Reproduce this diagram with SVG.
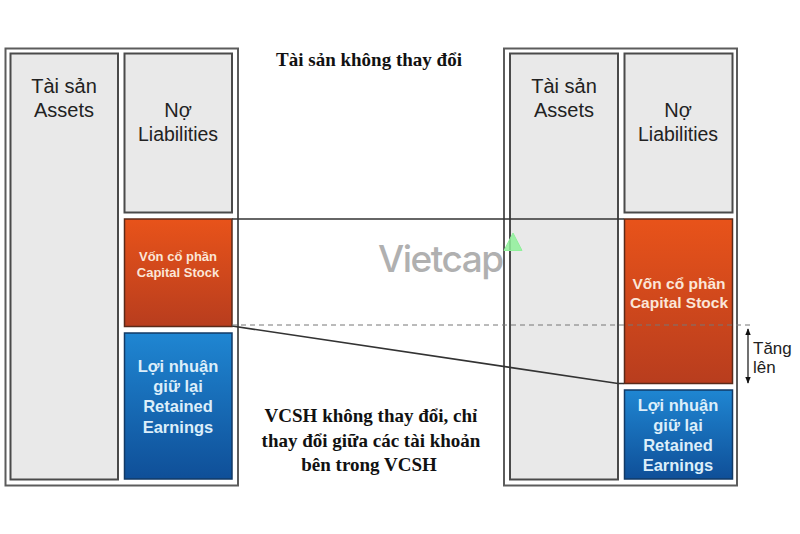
<svg xmlns="http://www.w3.org/2000/svg" width="800" height="534" viewBox="0 0 800 534">
<style>
.outer{fill:#fff;stroke:#5c5c5c;stroke-width:2}
.box{fill:#e9e9e9;stroke:#4a4a4a;stroke-width:2}
.or{fill:url(#orange);stroke:#5a2a1a;stroke-width:1.5}
.bl{fill:url(#blue);stroke:#123a66;stroke-width:1.5}
.big{font-family:"Liberation Sans",Arial,sans-serif;font-size:20px;fill:#222;text-anchor:middle}
.lt{font-family:"Liberation Sans",Arial,sans-serif;fill:#dceefa;text-anchor:middle;font-weight:bold}
.ow{font-family:"Liberation Sans",Arial,sans-serif;fill:#fbe6d8;text-anchor:middle;font-weight:bold}
.ser{font-family:"Liberation Serif","Times New Roman",serif;font-size:19px;font-weight:bold;fill:#111;text-anchor:middle}
.conn{fill:none;stroke:#333;stroke-width:1.6}
</style>
<defs>
<linearGradient id="orange" x1="0" y1="0" x2="0" y2="1"><stop offset="0" stop-color="#e8531a"/><stop offset="1" stop-color="#b83d1e"/></linearGradient>
<linearGradient id="blue" x1="0" y1="0" x2="0" y2="1"><stop offset="0" stop-color="#1f86d2"/><stop offset="1" stop-color="#0f4f98"/></linearGradient>
<marker id="ah" viewBox="0 0 10 10" refX="9" refY="5" markerWidth="6" markerHeight="6" orient="auto-start-reverse"><path d="M0 1L10 5L0 9Z" fill="#111"/></marker>
</defs>
<g id="left-frame"><rect class="outer" x="5.500" y="48.500" width="232.500" height="437"/></g>
<g id="right-frame"><rect class="outer" x="504" y="48.500" width="233" height="437"/></g>
<g id="left-assets"><rect class="box" x="10.500" y="53.500" width="107.500" height="426"/><text class="big" x="64" y="93">Tài sản</text><text class="big" x="64" y="117">Assets</text></g>
<g id="left-liabilities"><rect class="box" x="124.500" y="53.500" width="107.500" height="159"/><text class="big" x="178" y="117">Nợ</text><text class="big" x="178" y="141" textLength="80" lengthAdjust="spacingAndGlyphs">Liabilities</text></g>
<g id="left-capital"><rect class="or" x="124.500" y="219" width="107.500" height="107.500"/><text class="ow" font-size="13" x="178" y="261">Vốn cổ phần</text><text class="ow" font-size="13" x="178" y="277">Capital Stock</text></g>
<g id="left-retained"><rect class="bl" x="124.500" y="333" width="107.500" height="146"/><text class="lt" font-size="16.500" x="178" y="372">Lợi nhuận</text><text class="lt" font-size="16.500" x="178" y="392">giữ lại</text><text class="lt" font-size="16.500" x="178" y="412">Retained</text><text class="lt" font-size="16.500" x="178" y="433">Earnings</text></g>
<g id="right-assets"><rect class="box" x="510" y="53.500" width="108" height="426"/><text class="big" x="564" y="93">Tài sản</text><text class="big" x="564" y="117">Assets</text></g>
<g id="right-liabilities"><rect class="box" x="624.500" y="53.500" width="108" height="159"/><text class="big" x="678" y="117">Nợ</text><text class="big" x="678" y="141" textLength="80" lengthAdjust="spacingAndGlyphs">Liabilities</text></g>
<g id="right-capital"><rect class="or" x="624.500" y="219" width="108" height="164.500"/><text class="ow" font-size="15.500" x="679" y="289">Vốn cổ phần</text><text class="ow" font-size="15.500" x="679" y="308">Capital Stock</text></g>
<g id="right-retained"><rect class="bl" x="624.500" y="390" width="108" height="89"/><text class="lt" font-size="16.500" x="678" y="411">Lợi nhuận</text><text class="lt" font-size="16.500" x="678" y="431">giữ lại</text><text class="lt" font-size="16.500" x="678" y="451">Retained</text><text class="lt" font-size="16.500" x="678" y="471">Earnings</text></g>
<g id="connectors">
<path class="conn" d="M232 219H624"/>
<path class="conn" d="M232 326L618 383.500H624"/>
<path d="M232 325H752" fill="none" stroke="#777" stroke-width="1" stroke-dasharray="5 4"/>
<path d="M748 329V383" fill="none" stroke="#111" stroke-width="1.200" marker-start="url(#ah)" marker-end="url(#ah)"/>
</g>
<g id="labels">
<text class="ser" x="369" y="66">Tài sản không thay đổi</text>
<text class="ser" x="371" y="422">VCSH không thay đổi, chỉ</text>
<text class="ser" x="371" y="447">thay đổi giữa các tài khoản</text>
<text class="ser" x="369" y="471">bên trong VCSH</text>
<text font-family="'Liberation Sans',Arial,sans-serif" font-size="17" fill="#222" x="753" y="354">Tăng</text>
<text font-family="'Liberation Sans',Arial,sans-serif" font-size="17" fill="#222" x="753" y="373">lên</text>
</g>
<g id="watermark">
<text font-family="Inter,'Liberation Sans',sans-serif" font-size="37" font-weight="500" fill="#b0b0b0" x="378" y="272" letter-spacing="-1.500">Vietcap</text>
<path d="M504 250.500L513 233L522 250.500Z" fill="#8ff09a" fill-opacity=".85" stroke="#8ff09a" stroke-linejoin="round" stroke-width="1"/>
</g>
</svg>
